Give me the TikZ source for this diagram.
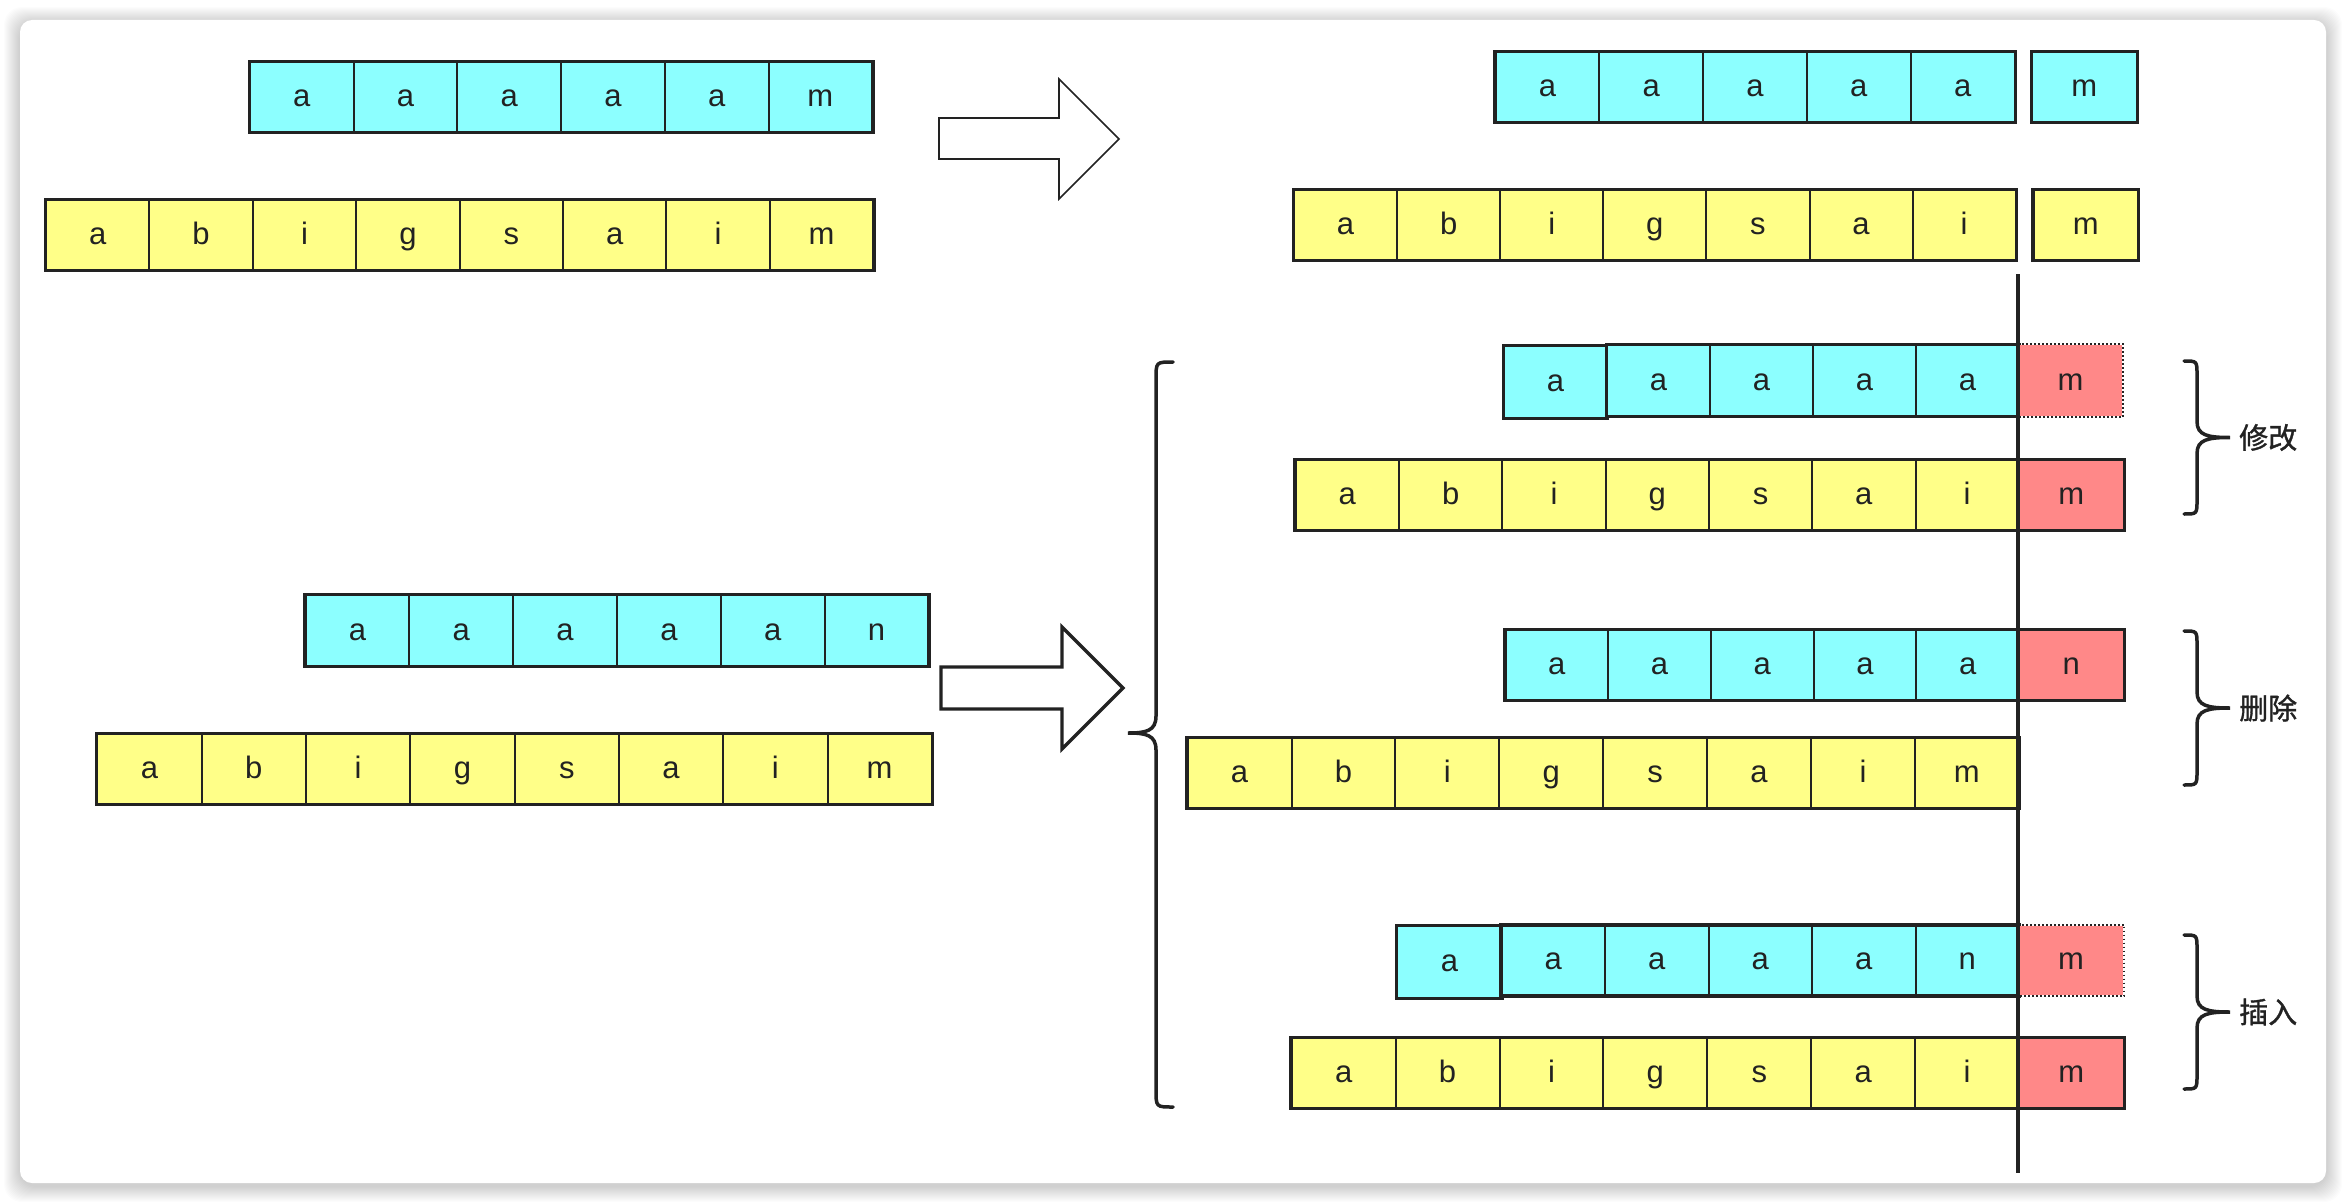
\documentclass[tikz,border=0pt]{standalone}
\usepackage{fontspec}
\setmainfont{Liberation Sans}
\newfontfamily\cjk{Noto Sans CJK SC}[FakeBold=1.2]
\definecolor{cyc}{RGB}{140,255,255}
\definecolor{yec}{RGB}{255,255,136}
\definecolor{pkc}{RGB}{255,136,136}
\definecolor{linec}{RGB}{34,34,34}
\tikzset{
  cell/.style={draw=linec, line width=2pt, inner sep=0pt, anchor=north west,
    text height=19pt, text depth=0pt, text=linec, font=\fontsize{31}{36}\selectfont},
  cy/.style={fill=cyc},
  ye/.style={fill=yec},
  pk/.style={fill=pkc},
  rowframe/.style={draw=linec, line width=2.6pt},
  dotborder/.style={draw=linec, line width=1.6pt, dash pattern=on 1.6pt off 2.4pt},
  brc/.style={draw=linec, line width=3.5pt, line cap=round},
  lbl/.style={text=linec, font=\cjk\fontsize{29}{34}\selectfont, anchor=west, inner sep=0pt},
  bigarrow/.style={draw=linec, fill=white, line join=miter},
}
% #1 height, #2 prefix, #3 x0, #4 y0, #5 cell width, #6 style, #7 letters, #8 count
\newcommand\cellrow[8][70]{%
  \foreach \l [count=\i] in {#7} {
    \node[cell,#6,minimum width=#5pt,minimum height=#1pt] (#2-\i) at ({#3+(\i-1)*#5},#4) {\l};
  }
  \draw[rowframe] (#2-1.north west) rectangle (#2-#8.south east);
}
% right brace: #1 name, #2 ytop, #3 ybot
\newcommand\rbrc[3]{%
  \coordinate (#1t) at (2184,#2);
  \coordinate (#1b) at (2184,#3);
  \pgfmathsetmacro\ym{(#2+#3)/2}
  \coordinate (#1m) at (2230,\ym);
  \draw[brc] (#1t) .. controls (2197,#2) .. (2197,#2+14) -- (2197,\ym-16)
     .. controls (2197,\ym-2) and (2208,\ym) .. (#1m)
     .. controls (2208,\ym) and (2197,\ym+2) .. (2197,\ym+16) -- (2197,#3-14)
     .. controls (2197,#3) .. (#1b);
}
\begin{document}
\begin{tikzpicture}[x=1pt,y=-1pt]
\useasboundingbox (0,0) rectangle (2346,1204);
% card shadow
\foreach \k in {1,...,16} {
  \fill[black, opacity=0.011, rounded corners=18pt] (20-\k,20-\k+3) rectangle (2326+\k,1183+\k+3);
}
\fill[white, rounded corners=12pt] (20,20) rectangle (2326,1183);

% ---- top left
\cellrow[70]{r1}{249}{61}{103.7}{cy}{a,a,a,a,a,m}{6}
\cellrow[70]{r2}{45}{199}{103.4}{ye}{a,b,i,g,s,a,i,m}{8}
% arrow 1
\draw[bigarrow, line width=1.6pt] (939,118) -- (1059,118) -- (1059,79) -- (1119,139) -- (1059,199) -- (1059,159) -- (939,159) -- cycle;
% ---- top right
\cellrow[70]{r3}{1494.5}{51}{103.8}{cy}{a,a,a,a,a}{5}
\cellrow[70]{r3m}{2031}{51}{104.5}{cy}{m}{1}
\cellrow[70]{r4}{1293}{189}{103.1}{ye}{a,b,i,g,s,a,i}{7}
\cellrow[70]{r4m}{2032.5}{189}{104.5}{ye}{m}{1}

% ---- bottom left
\cellrow[71]{lc}{304.6}{594}{103.8}{cy}{a,a,a,a,a,n}{6}
\cellrow[70]{ly}{96.4}{733}{104.3}{ye}{a,b,i,g,s,a,i,m}{8}
% arrow 2
\draw[bigarrow, line width=3.4pt] (941,667) -- (1062,667) -- (1062,627) -- (1123,688) -- (1062,749) -- (1062,709) -- (941,709) -- cycle;

% ---- big left brace
\coordinate (bbt) at (1173,362);
\coordinate (bbb) at (1173,1107);
\coordinate (bbm) at (1128,733);
\draw[brc] (bbt) .. controls (1156,362) .. (1156,379) -- (1156,716)
   .. controls (1156,731) and (1146,733) .. (bbm)
   .. controls (1146,733) and (1156,735) .. (1156,750) -- (1156,1090)
   .. controls (1156,1107) .. (bbb);

% ---- modify group
\cellrow[72]{mc0}{1503}{345}{103}{cy}{a}{1}
\cellrow[71]{mc}{1606}{344}{103}{cy}{a,a,a,a}{4}
\node[cell,pk,draw=none,minimum width=103pt,minimum height=71pt] (mcm) at (2018,344) {m};
\draw[dotborder] (mcm.north west) -- (mcm.north east) -- (mcm.south east) -- (mcm.south west);
\cellrow[70]{my}{1294.7}{459}{103.3}{ye}{a,b,i,g,s,a,i}{7}
\cellrow[70]{mym}{2018}{459}{104.5}{pk}{m}{1}

% ---- delete group
\cellrow[70]{dc}{1504.5}{629}{102.7}{cy}{a,a,a,a,a}{5}
\cellrow[70]{dcn}{2018}{629}{104.5}{pk}{n}{1}
\cellrow[70]{dy}{1186.6}{737}{103.9}{ye}{a,b,i,g,s,a,i,m}{8}

% ---- insert group
\cellrow[72]{ic0}{1396.4}{925}{104}{cy}{a}{1}
\cellrow[69.5]{ic}{1500.5}{924.7}{103.5}{cy}{a,a,a,a,n}{5}
\node[cell,pk,draw=none,minimum width=104pt,minimum height=69.5pt] (icm) at (2018,924.7) {m};
\draw[dotborder] (icm.north west) -- (icm.north east) -- (icm.south east) -- (icm.south west);
\cellrow[70]{iy}{1290.7}{1037}{103.9}{ye}{a,b,i,g,s,a,i}{7}
\cellrow[70]{iym}{2018}{1037}{104.5}{pk}{m}{1}

% ---- vertical line
\coordinate (vtop) at (2018,274);
\coordinate (vbot) at (2018,1173);
\draw[draw=linec, line width=3.6pt] (vtop) -- (vbot);

% ---- right braces and labels
\rbrc{bm}{361}{514}
\node[lbl] (lmod) at (2239,437.5) {修改};
\rbrc{bd}{631}{785}
\node[lbl] (ldel) at (2239,708) {删除};
\rbrc{bi}{935}{1089}
\node[lbl] (lins) at (2239,1012) {插入};
\end{tikzpicture}
\end{document}
